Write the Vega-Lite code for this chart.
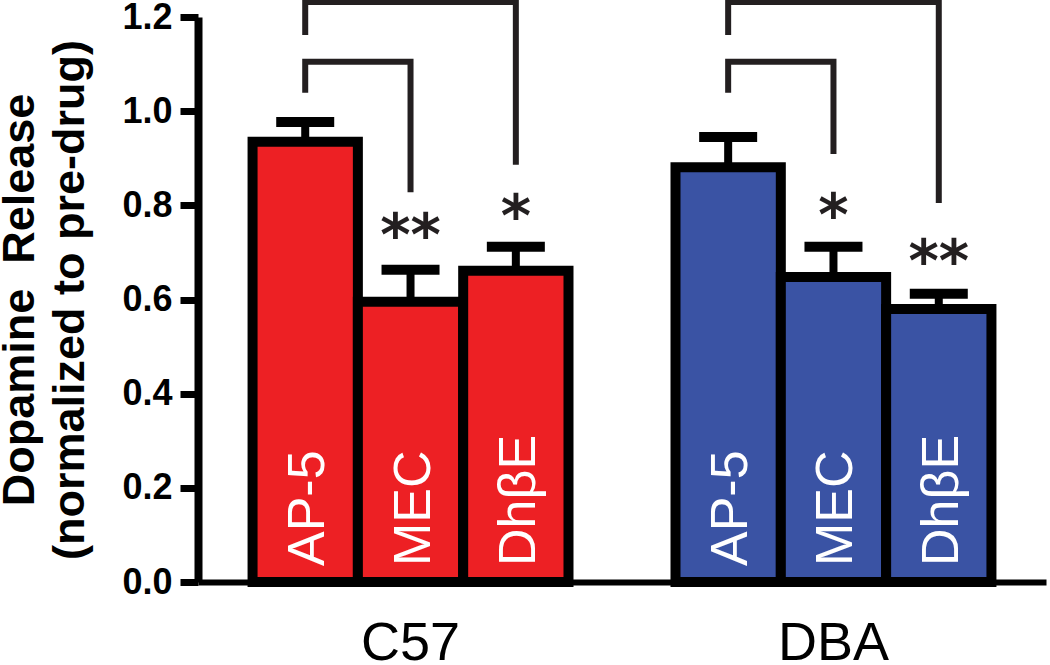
{
  "$schema": "https://vega.github.io/schema/vega-lite/v6.json",
  "width": 848,
  "height": 565,
  "autosize": {"type": "none"},
  "padding": {"left": 198, "top": 17, "right": 4, "bottom": 83},
  "config": {"view": {"stroke": null}, "font": "Liberation Sans"},
  "datasets": {
    "bars": [
      {"strain": "C57", "drug": "AP-5", "mean": 0.935, "upper": 0.977},
      {"strain": "C57", "drug": "MEC", "mean": 0.595, "upper": 0.663},
      {"strain": "C57", "drug": "DhβE", "mean": 0.661, "upper": 0.712},
      {"strain": "DBA", "drug": "AP-5", "mean": 0.881, "upper": 0.945},
      {"strain": "DBA", "drug": "MEC", "mean": 0.648, "upper": 0.712},
      {"strain": "DBA", "drug": "DhβE", "mean": 0.58, "upper": 0.612}
    ],
    "sig": [
      {"strain": "C57", "drug": "MEC", "y": 0.765, "label": "**"},
      {"strain": "C57", "drug": "DhβE", "y": 0.805, "label": "*"},
      {"strain": "DBA", "drug": "MEC", "y": 0.807, "label": "*"},
      {"strain": "DBA", "drug": "DhβE", "y": 0.709, "label": "**"}
    ],
    "brackets": [
      {"strain": "C57", "bracket": "C57-inner", "seq": 1, "drug": "AP-5", "y": 1.039},
      {"strain": "C57", "bracket": "C57-inner", "seq": 2, "drug": "AP-5", "y": 1.105},
      {"strain": "C57", "bracket": "C57-inner", "seq": 3, "drug": "MEC", "y": 1.105},
      {"strain": "C57", "bracket": "C57-inner", "seq": 4, "drug": "MEC", "y": 0.828},
      {"strain": "C57", "bracket": "C57-outer", "seq": 1, "drug": "AP-5", "y": 1.162},
      {"strain": "C57", "bracket": "C57-outer", "seq": 2, "drug": "AP-5", "y": 1.232},
      {"strain": "C57", "bracket": "C57-outer", "seq": 3, "drug": "DhβE", "y": 1.232},
      {"strain": "C57", "bracket": "C57-outer", "seq": 4, "drug": "DhβE", "y": 0.886},
      {"strain": "DBA", "bracket": "DBA-inner", "seq": 1, "drug": "AP-5", "y": 1.039},
      {"strain": "DBA", "bracket": "DBA-inner", "seq": 2, "drug": "AP-5", "y": 1.105},
      {"strain": "DBA", "bracket": "DBA-inner", "seq": 3, "drug": "MEC", "y": 1.105},
      {"strain": "DBA", "bracket": "DBA-inner", "seq": 4, "drug": "MEC", "y": 0.909},
      {"strain": "DBA", "bracket": "DBA-outer", "seq": 1, "drug": "AP-5", "y": 1.162},
      {"strain": "DBA", "bracket": "DBA-outer", "seq": 2, "drug": "AP-5", "y": 1.232},
      {"strain": "DBA", "bracket": "DBA-outer", "seq": 3, "drug": "DhβE", "y": 1.232},
      {"strain": "DBA", "bracket": "DBA-outer", "seq": 4, "drug": "DhβE", "y": 0.805}
    ]
  },
  "encoding": {
    "x": {
      "field": "strain",
      "type": "nominal",
      "scale": {"domain": ["C57", "DBA"], "paddingInner": 0.253, "paddingOuter": 0.129},
      "axis": {
        "title": null,
        "labelAngle": 0,
        "labelFont": "Liberation Sans",
        "labelFontSize": 54,
        "labelColor": "#000000",
        "labelBaseline": "alphabetic",
        "labelPadding": 77,
        "ticks": false,
        "tickSize": 0,
        "domainColor": "#000000",
        "domainWidth": 6,
        "grid": false
      }
    },
    "xOffset": {
      "field": "drug",
      "type": "nominal",
      "scale": {"domain": ["AP-5", "MEC", "DhβE"], "paddingInner": 0, "paddingOuter": 0}
    }
  },
  "layer": [
    {
      "data": {"name": "bars"},
      "mark": {"type": "bar", "stroke": "#000000", "strokeWidth": 10},
      "encoding": {
        "y": {
          "field": "mean",
          "type": "quantitative",
          "scale": {"domain": [0, 1.2], "nice": false, "zero": true},
          "axis": {
            "values": [0, 0.2, 0.4, 0.6, 0.8, 1.0, 1.2],
            "format": ".1f",
            "grid": false,
            "title": ["Dopamine \u00a0Release", "(normalized to pre-drug)"],
            "titleFont": "Liberation Sans",
            "titleFontWeight": "bold",
            "titleFontSize": 45,
            "titleLineHeight": 50,
            "titleColor": "#000000",
            "titleAngle": 270,
            "titleAlign": "center",
            "titleBaseline": "alphabetic",
            "titleX": -165,
            "titleY": 282.5,
            "labelFont": "Liberation Sans",
            "labelFontWeight": "bold",
            "labelFontSize": 36,
            "labelColor": "#000000",
            "labelPadding": 8,
            "labelBaseline": "middle",
            "tickSize": 18,
            "tickWidth": 7,
            "tickColor": "#000000",
            "domainColor": "#000000",
            "domainWidth": 8
          }
        },
        "fill": {
          "field": "strain",
          "type": "nominal",
          "scale": {"domain": ["C57", "DBA"], "range": ["#ed2024", "#3a53a4"]},
          "legend": null
        }
      }
    },
    {
      "data": {"name": "bars"},
      "mark": {"type": "rule", "color": "#000000", "strokeWidth": 8},
      "encoding": {
        "y": {"field": "mean", "type": "quantitative"},
        "y2": {"field": "upper"}
      }
    },
    {
      "data": {"name": "bars"},
      "mark": {"type": "tick", "orient": "horizontal", "color": "#000000", "size": 58, "thickness": 10, "opacity": 1},
      "encoding": {
        "y": {"field": "upper", "type": "quantitative"}
      }
    },
    {
      "data": {"name": "bars"},
      "mark": {"type": "text", "angle": 270, "align": "left", "baseline": "alphabetic", "dx": 16, "dy": 19, "font": "Liberation Sans", "fontSize": 52, "color": "#ffffff"},
      "encoding": {
        "y": {"datum": 0, "type": "quantitative"},
        "text": {"field": "drug"}
      }
    },
    {
      "data": {"name": "brackets"},
      "mark": {"type": "line", "color": "#231f20", "strokeWidth": 6, "strokeJoin": "miter", "strokeCap": "butt"},
      "encoding": {
        "y": {"field": "y", "type": "quantitative"},
        "detail": {"field": "bracket"},
        "order": {"field": "seq", "type": "quantitative"}
      }
    },
    {
      "data": {"name": "sig"},
      "mark": {"type": "text", "align": "center", "baseline": "alphabetic", "dy": 33, "font": "DejaVu Sans", "fontWeight": "bold", "fontSize": 58, "color": "#231f20"},
      "encoding": {
        "y": {"field": "y", "type": "quantitative"},
        "text": {"field": "label"}
      }
    }
  ]
}
